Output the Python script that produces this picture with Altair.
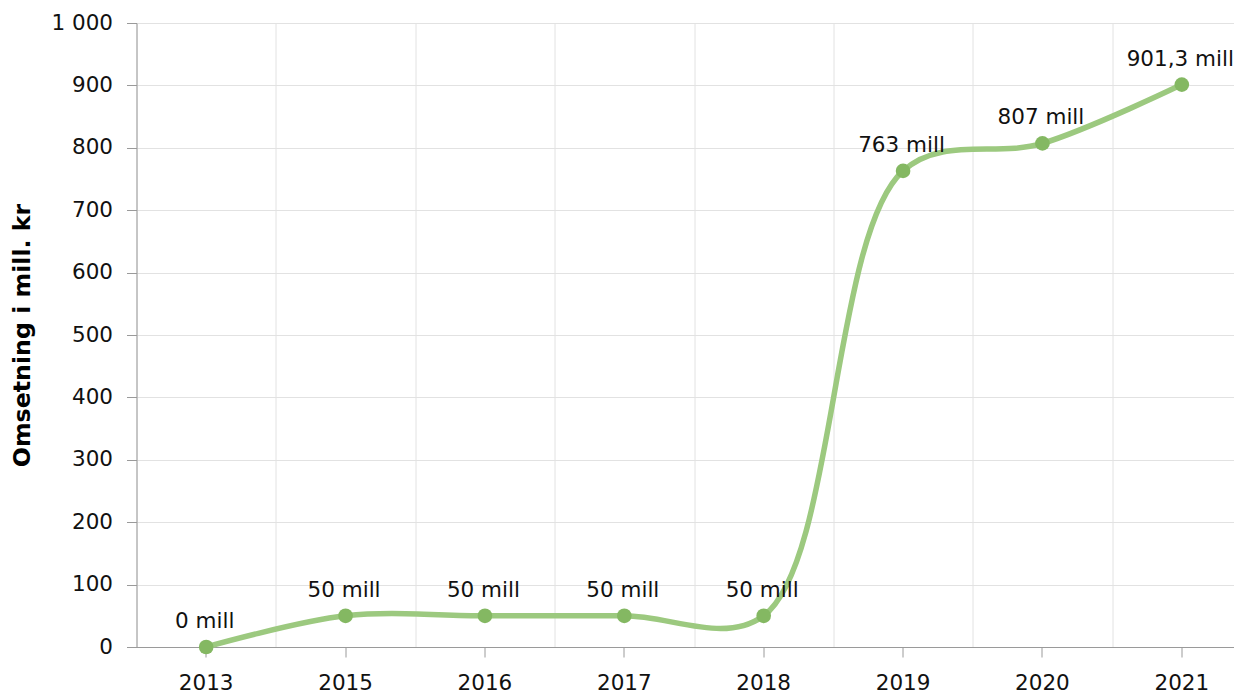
import altair as alt
import pandas as pd

years = ["2013", "2015", "2016", "2017", "2018", "2019", "2020", "2021"]
values = [0, 50, 50, 50, 50, 763, 807, 901.3]
labels = ["0 mill", "50 mill", "50 mill", "50 mill", "50 mill", "763 mill", "807 mill", "901,3 mill"]
y_ticks = [0, 100, 200, 300, 400, 500, 600, 700, 800, 900, 1000]

df = pd.DataFrame({"year": years, "value": values, "label": labels})

FONT = "DejaVu Sans"
LINE = "#9CC97F"
POINT = "#84B862"
AXIS = "#9a9a9a"
GRID = "#e2e2e2"

# band range runs a little past the visible plot, as in the reference
xscale = alt.Scale(type="band", paddingInner=0, paddingOuter=0, range=[0, 1115])

y_enc = alt.Y(
    "value:Q",
    scale=alt.Scale(domain=[0, 1000], nice=False),
    axis=alt.Axis(
        values=y_ticks,
        title="Omsetning i mill. kr",
        titleFont=FONT, titleFontSize=23.7, titleFontWeight="bold", titleColor="#000000",
        titlePadding=16,
        labelFont=FONT, labelFontSize=21.5, labelColor="#111111", labelPadding=14,
        labelExpr="replace(format(datum.value, ','), ',', ' ')",
        tickSize=10, tickColor=AXIS, domainColor=AXIS,
        grid=True, gridColor=GRID,
    ),
)

line = alt.Chart(df).mark_line(
    interpolate="catmull-rom", color=LINE, strokeWidth=5.5
).encode(
    x=alt.X("year:N", sort=years, bandPosition=0.5, scale=xscale,
            axis=alt.Axis(orient="bottom", tickBand="extent", grid=True, gridColor=GRID,
                          ticks=False, labels=False, domain=False, title=None)),
    y=y_enc,
)

points = alt.Chart(df).mark_point(
    filled=True, size=215, color=POINT, opacity=1
).encode(
    x=alt.X("year:N", sort=years, bandPosition=0.5, scale=xscale,
            axis=alt.Axis(orient="bottom", grid=False, title=None, labelAngle=0,
                          labelFont=FONT, labelFontSize=21.5, labelColor="#111111",
                          labelPadding=15, tickSize=10, tickColor=AXIS, domainColor=AXIS)),
    y=y_enc,
)

text = alt.Chart(df).mark_text(
    dy=-25, dx=-1.5, font=FONT, fontSize=21.5, color="#111111"
).encode(
    x=alt.X("year:N", sort=years, bandPosition=0.5, scale=xscale, axis=None),
    y=y_enc,
    text="label:N",
)

chart = alt.layer(line, points, text).resolve_axis(x="independent").properties(
    width=1097,
    height=624,
    autosize=alt.AutoSizeParams(type="none"),
    padding={"left": 128.5, "top": 15, "right": 0, "bottom": 46},
).configure_view(stroke=None)

chart.save("out.html", embed_options={"renderer": "svg", "actions": False})
